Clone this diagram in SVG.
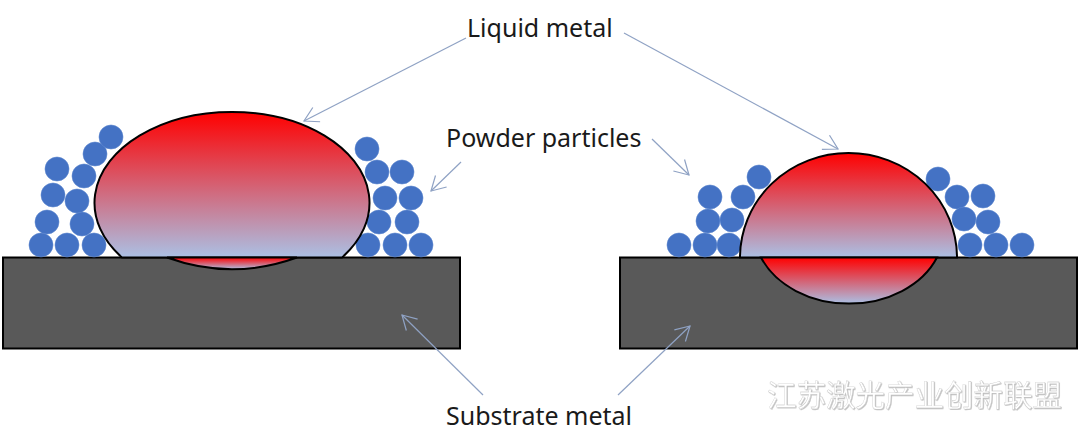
<svg xmlns="http://www.w3.org/2000/svg" width="1080" height="430" viewBox="0 0 1080 430">
  <style>
    .sub { fill: #595959; stroke: #000; stroke-width: 2; }
    .melt { stroke: #000; stroke-width: 2; }
    .p { fill: #4472c4; stroke: #5d86cf; stroke-width: 0.6; }
    .lead { fill: none; stroke: #8fa2c4; stroke-width: 1.2; marker-end: url(#open); }
    .label { font-family: "Noto Sans", "Open Sans", sans-serif; font-size: 25px; fill: #1a1a1a; }
    .mark { font-family: "Noto Sans CJK SC", sans-serif; font-size: 29.5px; fill: #fff; stroke: #c4c4c4; stroke-width: 0.3; filter: url(#sh); }
  </style>
  <defs>
    <marker id="open" viewBox="0 0 20 20" refX="19" refY="10" markerWidth="20" markerHeight="20" markerUnits="userSpaceOnUse" orient="auto">
      <path d="M5 2 L19 10 L5 18" fill="none" stroke="#8fa2c4" stroke-width="1.2"/>
    </marker>
    <linearGradient id="melt" x1="0" y1="0" x2="0" y2="1">
      <stop offset="0" stop-color="#ff0000"/>
      <stop offset="1" stop-color="#abc0e4"/>
    </linearGradient>
    <filter id="sh" x="-5%" y="-20%" width="110%" height="140%">
      <feDropShadow dx="0.8" dy="0.8" stdDeviation="0.4" flood-color="#9a9a9a" flood-opacity="0.7"/>
    </filter>
  </defs>

  <g id="substrate-left"><rect class="sub" x="3" y="257.500" width="457" height="91"/></g>
  <g id="substrate-right"><rect class="sub" x="620" y="257.500" width="457" height="91"/></g>

  <g id="particles-left">
    <circle class="p" cx="41" cy="245" r="12"/><circle class="p" cx="67" cy="245" r="12"/><circle class="p" cx="94" cy="245" r="12"/>
    <circle class="p" cx="47" cy="222" r="12"/><circle class="p" cx="82" cy="224" r="12"/>
    <circle class="p" cx="53" cy="195" r="12"/><circle class="p" cx="77" cy="201" r="12"/>
    <circle class="p" cx="57" cy="169" r="12"/><circle class="p" cx="84" cy="176" r="12"/>
    <circle class="p" cx="95" cy="154" r="12"/><circle class="p" cx="111" cy="137" r="12"/>
    <circle class="p" cx="368" cy="245" r="12"/><circle class="p" cx="395" cy="245" r="12"/><circle class="p" cx="421" cy="245" r="12"/>
    <circle class="p" cx="379" cy="222" r="12"/><circle class="p" cx="407" cy="222" r="12"/>
    <circle class="p" cx="385" cy="198" r="12"/><circle class="p" cx="411" cy="198" r="12"/>
    <circle class="p" cx="377" cy="172" r="12"/><circle class="p" cx="402" cy="172" r="12"/>
    <circle class="p" cx="367" cy="149" r="12"/>
  </g>
  <g id="particles-right">
    <circle class="p" cx="679" cy="245" r="12"/><circle class="p" cx="705" cy="245" r="12"/><circle class="p" cx="729" cy="245" r="12"/>
    <circle class="p" cx="708" cy="221" r="12"/><circle class="p" cx="732" cy="220" r="12"/>
    <circle class="p" cx="710" cy="197" r="12"/><circle class="p" cx="743" cy="197" r="12"/>
    <circle class="p" cx="759" cy="177" r="12"/>
    <circle class="p" cx="938" cy="179" r="12"/><circle class="p" cx="957" cy="197" r="12"/><circle class="p" cx="983" cy="196" r="12"/>
    <circle class="p" cx="964" cy="219" r="12"/><circle class="p" cx="988" cy="222" r="12"/>
    <circle class="p" cx="970" cy="245" r="12"/><circle class="p" cx="996" cy="245" r="12"/><circle class="p" cx="1022" cy="245" r="12"/>
  </g>

  <g id="melt-left">
    <path class="melt" fill="url(#melt)" d="M122 257.500 A137.500 91 0 1 1 342 257.500 Z"/>
    <path class="melt" fill="url(#melt)" d="M167 257.500 Q232 281 297 257.500 Z"/>
  </g>
  <g id="melt-right">
    <path class="melt" fill="url(#melt)" d="M740 257.500 A108.500 104.500 0 0 1 957 257.500 Z"/>
    <path class="melt" fill="url(#melt)" d="M761 257.500 A95 74 0 0 0 937 257.500 Z"/>
  </g>

  <g id="connectors">
    <line class="lead" x1="466" y1="38" x2="304" y2="121"/>
    <line class="lead" x1="624" y1="33" x2="838" y2="149"/>
    <line class="lead" x1="461" y1="162" x2="431" y2="191"/>
    <line class="lead" x1="652" y1="139" x2="689" y2="175"/>
    <line class="lead" x1="483" y1="395" x2="402" y2="315"/>
    <line class="lead" x1="618" y1="395" x2="690" y2="326"/>
  </g>

  <g id="labels">
    <text class="label" x="467" y="37">Liquid metal</text>
    <text class="label" x="446" y="147">Powder particles</text>
    <text class="label" x="446" y="425">Substrate metal</text>
  </g>
  <text class="mark" x="767" y="406">江苏激光产业创新联盟</text>
</svg>
